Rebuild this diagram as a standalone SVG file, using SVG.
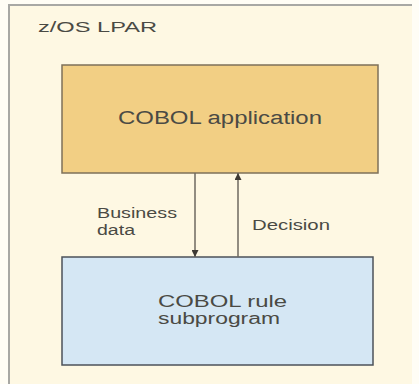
<svg xmlns="http://www.w3.org/2000/svg" width="419" height="384" viewBox="0 0 419 384">
<style>
.t{font-family:"Liberation Sans",Arial,sans-serif;fill:#4a4a44}
.conn{stroke:#6e6a60;stroke-width:1.5;fill:none}
</style>
<defs>
<marker id="ah" viewBox="0 0 10 10" refX="10" refY="5" markerWidth="7" markerHeight="7" orient="auto" markerUnits="userSpaceOnUse">
<path d="M0,0 L10,5 L0,10 z" fill="#3e3a34"/>
</marker>
</defs>
<rect width="419" height="384" fill="#fffdf5"/>
<g id="lpar">
<rect x="9" y="5" width="403" height="379" fill="#fef8e3"/>
<path d="M9,384 V5 H412" fill="none" stroke="#a8a8a4" stroke-width="2"/>
<text class="t" x="38" y="32" font-size="15" textLength="119" lengthAdjust="spacingAndGlyphs">z/OS LPAR</text>
</g>
<g id="app">
<rect x="62" y="65" width="316" height="108" fill="#f2cf84" stroke="#7e705a" stroke-width="1.5"/>
<text class="t" x="118" y="124" font-size="18" textLength="204" lengthAdjust="spacingAndGlyphs">COBOL application</text>
</g>
<g id="rule">
<rect x="62" y="257" width="311" height="108" fill="#d5e7f4" stroke="#4c525a" stroke-width="1.5"/>
<text class="t" x="158" y="307" font-size="16" textLength="129" lengthAdjust="spacingAndGlyphs">COBOL rule</text>
<text class="t" x="158" y="324" font-size="16" textLength="122" lengthAdjust="spacingAndGlyphs">subprogram</text>
</g>
<g id="connectors">
<line class="conn" x1="195" y1="173" x2="195" y2="257" marker-end="url(#ah)"/>
<line class="conn" x1="238" y1="257" x2="238" y2="173" marker-end="url(#ah)"/>
<text class="t" x="97" y="218" font-size="14" textLength="80" lengthAdjust="spacingAndGlyphs">Business</text>
<text class="t" x="97" y="235" font-size="14" textLength="38" lengthAdjust="spacingAndGlyphs">data</text>
<text class="t" x="252" y="230" font-size="14" textLength="78" lengthAdjust="spacingAndGlyphs">Decision</text>
</g>
</svg>
